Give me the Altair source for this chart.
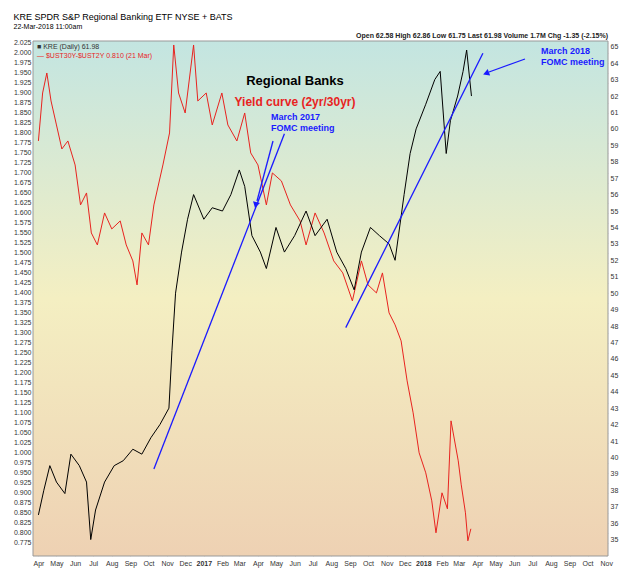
import altair as alt
import pandas as pd

# yield curve 2yr/30yr (left axis)
red_dates = ["2016-04-01","2016-04-08","2016-04-15","2016-04-22","2016-05-01","2016-05-10","2016-05-20",
             "2016-06-01","2016-06-10","2016-06-20","2016-06-28","2016-07-08","2016-07-20","2016-08-01",
             "2016-08-15","2016-08-25","2016-09-05","2016-09-12","2016-09-20","2016-10-01","2016-10-10",
             "2016-10-25","2016-11-05","2016-11-12","2016-11-20","2016-12-01","2016-12-15","2016-12-22",
             "2017-01-05","2017-01-15","2017-01-31","2017-02-10","2017-02-25","2017-03-10","2017-03-20",
             "2017-04-01","2017-04-15","2017-04-25","2017-05-10","2017-05-25","2017-06-10","2017-06-20",
             "2017-07-05","2017-07-20","2017-08-05","2017-08-20","2017-09-05","2017-09-20","2017-10-01",
             "2017-10-15","2017-10-25","2017-11-05","2017-11-15","2017-11-25","2017-12-05","2017-12-15",
             "2017-12-25","2018-01-05","2018-01-15","2018-01-22","2018-02-01","2018-02-10","2018-02-16",
             "2018-02-28","2018-03-05","2018-03-12","2018-03-16","2018-03-21"]
red_vals = [1.78,1.90,1.95,1.88,1.82,1.76,1.78,1.72,1.62,1.65,1.55,1.52,1.60,1.56,1.58,1.52,1.48,1.42,
            1.55,1.52,1.62,1.72,1.80,2.02,1.90,1.85,2.02,1.88,1.90,1.82,1.90,1.82,1.78,1.85,1.75,1.72,
            1.62,1.70,1.68,1.62,1.58,1.52,1.60,1.55,1.48,1.45,1.38,1.48,1.42,1.40,1.45,1.35,1.32,1.28,
            1.18,1.10,1.00,0.95,0.88,0.80,0.90,0.86,1.08,0.98,0.92,0.85,0.78,0.81]

# KRE daily close (right axis)
kre_dates = ["2016-04-01","2016-04-10","2016-04-20","2016-05-01","2016-05-15","2016-05-25","2016-06-08",
             "2016-06-20","2016-06-27","2016-07-05","2016-07-20","2016-08-05","2016-08-20","2016-09-05",
             "2016-09-20","2016-10-05","2016-10-20","2016-11-04","2016-11-09","2016-11-15","2016-11-25",
             "2016-12-05","2016-12-15","2017-01-01","2017-01-15","2017-02-01","2017-02-15","2017-03-01",
             "2017-03-10","2017-03-22","2017-04-05","2017-04-15","2017-05-01","2017-05-15","2017-06-01",
             "2017-06-20","2017-07-05","2017-07-25","2017-08-10","2017-08-25","2017-09-08","2017-09-20",
             "2017-10-05","2017-10-20","2017-11-05","2017-11-15","2017-11-30","2017-12-10","2017-12-20",
             "2018-01-05","2018-01-20","2018-01-29","2018-02-08","2018-02-15","2018-02-27","2018-03-08",
             "2018-03-14","2018-03-22"]
kre_vals = [36.5,38,39.5,38.5,37.8,40.2,39.5,38.5,35.0,36.8,38.5,39.5,39.8,40.5,40.2,41.2,42.0,43.0,
            46.5,50.0,52.5,54.5,56.0,54.5,55.2,55.0,56.0,57.5,56.5,53.5,52.5,51.5,54.0,52.5,53.5,55.0,
            53.5,54.5,52.5,51.5,50.2,52.5,54.0,53.5,53.0,52.0,56.0,58.5,60.0,61.5,63.0,63.5,58.5,60.5,
            62.0,63.5,64.8,62.0]

# blue trend lines (KRE units)
trend_id = ["a", "a", "b", "b"]
trend_dates = ["2016-10-10", "2017-05-15", "2017-08-25", "2018-04-10"]
trend_vals = [39.3, 59.7, 47.9, 64.6]

W, H = 575, 515
xdom = [pd.Timestamp("2016-03-23").isoformat(), pd.Timestamp("2018-11-04").isoformat()]
xscale = alt.Scale(domain=xdom)

red_df = pd.DataFrame({"date": red_dates, "v": red_vals})
kre_df = pd.DataFrame({"date": kre_dates, "v": kre_vals})
trend_df = pd.DataFrame({"id": trend_id, "date": trend_dates, "v": trend_vals})

xaxis = alt.Axis(format="%b", tickCount={"interval": "month", "step": 1}, labelFontSize=7,
                 labelColor="#333", grid=True, gridColor="#bbb", gridOpacity=0.5, title=None,
                 labelExpr="month(datum.value)==0 ? year(datum.value) : timeFormat(datum.value, '%b')",
                 labelFontWeight={"condition": {"test": "month(datum.value)==0", "value": "bold"}, "value": "normal"},
                 domain=False, ticks=False, labelPadding=3)

grad = alt.Gradient(gradient="linear", x1=0, y1=0, x2=0, y2=1,
                    stops=[alt.GradientStop(color="#c3e5e1", offset=0),
                           alt.GradientStop(color="#f4efc2", offset=0.5),
                           alt.GradientStop(color="#eed1b3", offset=1)])
bg = alt.Chart(pd.DataFrame({"a": [0]})).mark_rect(fill=grad, stroke="#999").encode(
    x=alt.value(0), x2=alt.value(W), y=alt.value(0), y2=alt.value(H))

red = alt.Chart(red_df).mark_line(color="#e8231f", strokeWidth=1).encode(
    x=alt.X("date:T", scale=xscale, axis=xaxis),
    y=alt.Y("v:Q", scale=alt.Scale(domain=[0.742, 2.03], nice=False, zero=False),
            axis=alt.Axis(values=[0.775 + 0.025 * i for i in range(51)], format=".3f", labelFontSize=7,
                          labelColor="#333", title=None, grid=True, gridColor="#bbb", gridOpacity=0.5,
                          domain=False, ticks=False)))

kscale = alt.Scale(domain=[34.0, 65.35], nice=False, zero=False)
kre = alt.Chart(kre_df).mark_line(color="black", strokeWidth=1).encode(
    x=alt.X("date:T", scale=xscale),
    y=alt.Y("v:Q", scale=kscale,
            axis=alt.Axis(orient="right", values=list(range(35, 66)), labelFontSize=7, labelColor="#333",
                          title=None, grid=False, domain=False, ticks=False)))
trend = alt.Chart(trend_df).mark_line(color="#1a1aff", strokeWidth=1.3).encode(
    x=alt.X("date:T", scale=xscale), y=alt.Y("v:Q", scale=kscale, axis=None), detail="id:N")

ann = alt.Chart(pd.DataFrame({"a": [0]}))
arrows = ann.mark_rule(color="#1a1aff", strokeWidth=1.3).encode(
    x=alt.value(240), y=alt.value(100), x2=alt.value(224), y2=alt.value(160)) + \
    ann.mark_rule(color="#1a1aff", strokeWidth=1.3).encode(
    x=alt.value(492), y=alt.value(18), x2=alt.value(456), y2=alt.value(31))
heads = ann.mark_point(shape="triangle", filled=True, color="#1a1aff", size=50, angle=194, opacity=1).encode(
    x=alt.value(223), y=alt.value(163)) + \
    ann.mark_point(shape="triangle", filled=True, color="#1a1aff", size=50, angle=250, opacity=1).encode(
    x=alt.value(454), y=alt.value(32))

texts = (
    ann.mark_text(fontSize=13, fontWeight="bold", font="Liberation Sans").encode(
        x=alt.value(262), y=alt.value(40), text=alt.value("Regional Banks"))
    + ann.mark_text(fontSize=12, fontWeight="bold", color="#e8231f", font="Liberation Sans").encode(
        x=alt.value(262), y=alt.value(61), text=alt.value("Yield curve (2yr/30yr)"))
    + ann.mark_text(fontSize=9, fontWeight="bold", color="#1a1aff", align="left", font="Liberation Sans",
                    lineBreak="\n").encode(
        x=alt.value(238), y=alt.value(76), text=alt.value("March 2017\nFOMC meeting"))
    + ann.mark_text(fontSize=9, fontWeight="bold", color="#1a1aff", align="left", font="Liberation Sans",
                    lineBreak="\n").encode(
        x=alt.value(508), y=alt.value(10), text=alt.value("March 2018\nFOMC meeting"))
    + ann.mark_text(fontSize=7, align="left", color="#333").encode(
        x=alt.value(4), y=alt.value(6), text=alt.value("■ KRE (Daily) 61.98"))
    + ann.mark_text(fontSize=7, align="left", color="#e8231f").encode(
        x=alt.value(4), y=alt.value(15), text=alt.value("— $UST30Y-$UST2Y 0.810 (21 Mar)"))
    + ann.mark_text(fontSize=7, align="right", color="#222", fontWeight="bold").encode(
        x=alt.value(W), y=alt.value(-5),
        text=alt.value("Open 62.58  High 62.86  Low 61.75  Last 61.98  Volume 1.7M  Chg -1.35 (-2.15%)"))
)

chart = alt.layer(bg, red, kre, trend, arrows, heads, texts).resolve_scale(y="independent").properties(
    width=W, height=H,
    title=alt.TitleParams("KRE SPDR S&P Regional Banking ETF NYSE + BATS", subtitle="22-Mar-2018 11:00am",
                          anchor="start", fontSize=9, fontWeight="normal", subtitleFontSize=7, offset=2,
                          subtitlePadding=1)
).configure_view(stroke=None)

chart.save("out.html", embed_options={"renderer": "svg", "actions": False})
